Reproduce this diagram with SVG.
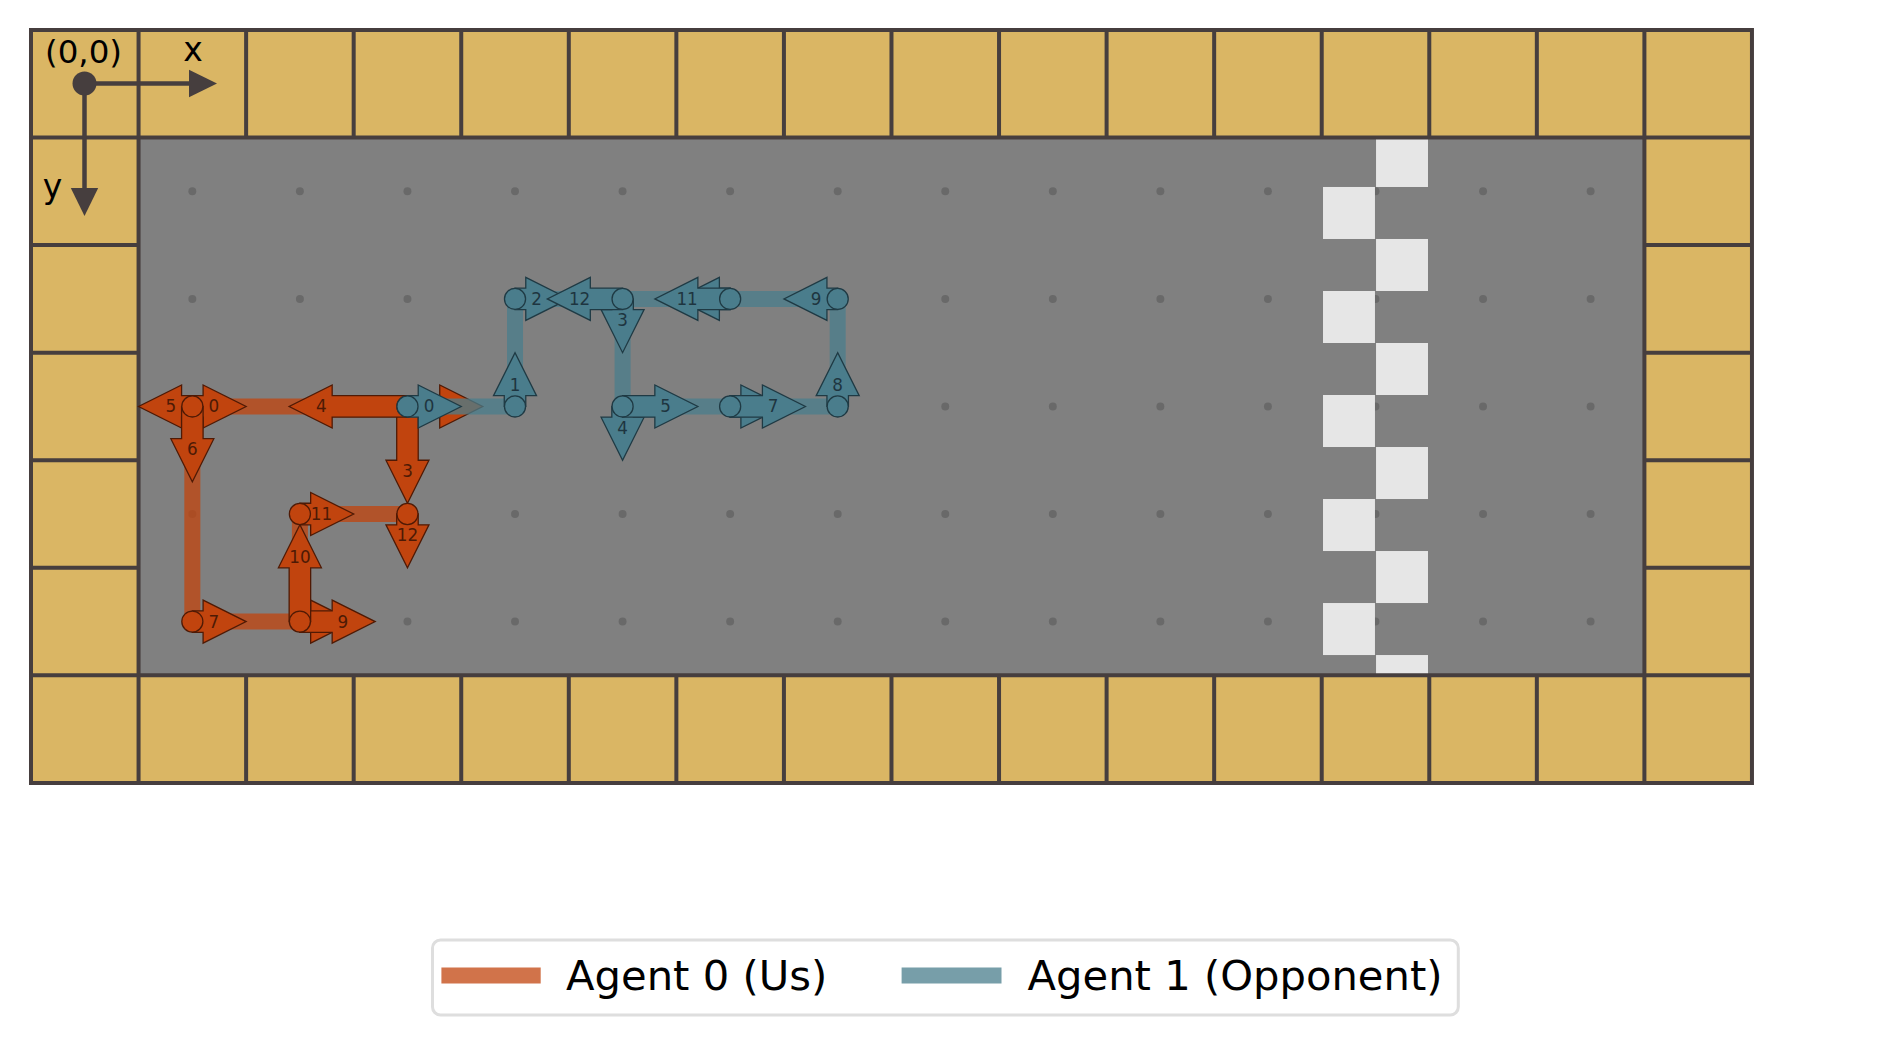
<svg xmlns="http://www.w3.org/2000/svg" width="1890" height="1045" viewBox="0 0 1890 1045">
<defs>
<style>
.txt{font-family:"DejaVu Sans","Liberation Sans",sans-serif}
.wall{fill:#dab664}
.floor{fill:#808080}
.dot{fill:#696969}
.chk{fill:#e6e6e6}
.gl{stroke:#463e3e;stroke-width:0.0372;stroke-linecap:square;fill:none}
.ao{fill:#c1440e;stroke:#4f1a05;stroke-width:0.012}
.at{fill:#4a7d8c;stroke:#1f3a44;stroke-width:0.012}
.co{fill:#c1440e;stroke:#4f1a05;stroke-width:0.012}
.ct{fill:#4a7d8c;stroke:#1f3a44;stroke-width:0.012}
.po{fill:none;stroke:#c1440e;stroke-opacity:0.75;stroke-width:0.149;stroke-linejoin:round}
.pt{fill:none;stroke:#4a7d8c;stroke-opacity:0.75;stroke-width:0.149;stroke-linejoin:round}
.lo{font-size:16.8px;fill:#4d1a05;text-anchor:middle}
.lt{font-size:16.8px;fill:#1e3540;text-anchor:middle}
.ax{fill:#463e3e}
</style>
<polygon id="a05" points="0,-0.1 0.1,-0.1 0.1,-0.2 0.5,0 0.1,0.2 0.1,0.1 0,0.1"/>
<polygon id="a07" points="0,-0.1 0.3,-0.1 0.3,-0.2 0.7,0 0.3,0.2 0.3,0.1 0,0.1"/>
<polygon id="a09" points="0,-0.1 0.5,-0.1 0.5,-0.2 0.9,0 0.5,0.2 0.5,0.1 0,0.1"/>
<polygon id="a11" points="0,-0.1 0.7,-0.1 0.7,-0.2 1.1,0 0.7,0.2 0.7,0.1 0,0.1"/>
</defs>
<rect width="1890" height="1045" fill="#ffffff"/>
<g id="board" transform="translate(31,30) scale(107.56)">
<rect class="wall" x="0" y="0" width="16" height="7"/>
<rect class="floor" x="1" y="1" width="14" height="5"/>
<g id="dots" class="dot">
<circle cx="1.5" cy="1.5" r="0.037"/><circle cx="2.5" cy="1.5" r="0.037"/><circle cx="3.5" cy="1.5" r="0.037"/><circle cx="4.5" cy="1.5" r="0.037"/><circle cx="5.5" cy="1.5" r="0.037"/><circle cx="6.5" cy="1.5" r="0.037"/><circle cx="7.5" cy="1.5" r="0.037"/><circle cx="8.5" cy="1.5" r="0.037"/><circle cx="9.5" cy="1.5" r="0.037"/><circle cx="10.5" cy="1.5" r="0.037"/><circle cx="11.5" cy="1.5" r="0.037"/><circle cx="12.5" cy="1.5" r="0.037"/><circle cx="13.5" cy="1.5" r="0.037"/><circle cx="14.5" cy="1.5" r="0.037"/>
<circle cx="1.5" cy="2.5" r="0.037"/><circle cx="2.5" cy="2.5" r="0.037"/><circle cx="3.5" cy="2.5" r="0.037"/><circle cx="4.5" cy="2.5" r="0.037"/><circle cx="5.5" cy="2.5" r="0.037"/><circle cx="6.5" cy="2.5" r="0.037"/><circle cx="7.5" cy="2.5" r="0.037"/><circle cx="8.5" cy="2.5" r="0.037"/><circle cx="9.5" cy="2.5" r="0.037"/><circle cx="10.5" cy="2.5" r="0.037"/><circle cx="11.5" cy="2.5" r="0.037"/><circle cx="12.5" cy="2.5" r="0.037"/><circle cx="13.5" cy="2.5" r="0.037"/><circle cx="14.5" cy="2.5" r="0.037"/>
<circle cx="1.5" cy="3.5" r="0.037"/><circle cx="2.5" cy="3.5" r="0.037"/><circle cx="3.5" cy="3.5" r="0.037"/><circle cx="4.5" cy="3.5" r="0.037"/><circle cx="5.5" cy="3.5" r="0.037"/><circle cx="6.5" cy="3.5" r="0.037"/><circle cx="7.5" cy="3.5" r="0.037"/><circle cx="8.5" cy="3.5" r="0.037"/><circle cx="9.5" cy="3.5" r="0.037"/><circle cx="10.5" cy="3.5" r="0.037"/><circle cx="11.5" cy="3.5" r="0.037"/><circle cx="12.5" cy="3.5" r="0.037"/><circle cx="13.5" cy="3.5" r="0.037"/><circle cx="14.5" cy="3.5" r="0.037"/>
<circle cx="1.5" cy="4.5" r="0.037"/><circle cx="2.5" cy="4.5" r="0.037"/><circle cx="3.5" cy="4.5" r="0.037"/><circle cx="4.5" cy="4.5" r="0.037"/><circle cx="5.5" cy="4.5" r="0.037"/><circle cx="6.5" cy="4.5" r="0.037"/><circle cx="7.5" cy="4.5" r="0.037"/><circle cx="8.5" cy="4.5" r="0.037"/><circle cx="9.5" cy="4.5" r="0.037"/><circle cx="10.5" cy="4.5" r="0.037"/><circle cx="11.5" cy="4.5" r="0.037"/><circle cx="12.5" cy="4.5" r="0.037"/><circle cx="13.5" cy="4.5" r="0.037"/><circle cx="14.5" cy="4.5" r="0.037"/>
<circle cx="1.5" cy="5.5" r="0.037"/><circle cx="2.5" cy="5.5" r="0.037"/><circle cx="3.5" cy="5.5" r="0.037"/><circle cx="4.5" cy="5.5" r="0.037"/><circle cx="5.5" cy="5.5" r="0.037"/><circle cx="6.5" cy="5.5" r="0.037"/><circle cx="7.5" cy="5.5" r="0.037"/><circle cx="8.5" cy="5.5" r="0.037"/><circle cx="9.5" cy="5.5" r="0.037"/><circle cx="10.5" cy="5.5" r="0.037"/><circle cx="11.5" cy="5.5" r="0.037"/><circle cx="12.5" cy="5.5" r="0.037"/><circle cx="13.5" cy="5.5" r="0.037"/><circle cx="14.5" cy="5.5" r="0.037"/>
</g>
<g id="finish" class="chk">
<rect x="12.505" y="1.0" width="0.483" height="0.4595"/>
<rect x="12.012" y="1.4595" width="0.483" height="0.4835"/>
<rect x="12.505" y="1.943" width="0.483" height="0.4835"/>
<rect x="12.012" y="2.4265" width="0.483" height="0.4835"/>
<rect x="12.505" y="2.910" width="0.483" height="0.4835"/>
<rect x="12.012" y="3.3935" width="0.483" height="0.4835"/>
<rect x="12.505" y="3.877" width="0.483" height="0.4835"/>
<rect x="12.012" y="4.3605" width="0.483" height="0.4835"/>
<rect x="12.505" y="4.844" width="0.483" height="0.4835"/>
<rect x="12.012" y="5.3275" width="0.483" height="0.4835"/>
<rect x="12.505" y="5.811" width="0.483" height="0.189"/>
</g>
<path class="gl" d="M0,0H16M0,1H16M0,6H16M0,7H16M0,2H1M0,3H1M0,4H1M0,5H1M15,2H16M15,3H16M15,4H16M15,5H16M0,0V7M1,0V7M15,0V7M16,0V7M2,0V1M3,0V1M4,0V1M5,0V1M6,0V1M7,0V1M8,0V1M9,0V1M10,0V1M11,0V1M12,0V1M13,0V1M14,0V1M2,6V7M3,6V7M4,6V7M5,6V7M6,6V7M7,6V7M8,6V7M9,6V7M10,6V7M11,6V7M12,6V7M13,6V7M14,6V7"/>
</g>
<g id="origin">
<line x1="84.5" y1="83.5" x2="191" y2="83.5" stroke="#463e3e" stroke-width="4.5"/>
<polygon class="ax" points="189,69.8 217,83.5 189,97.2"/>
<line x1="84.5" y1="83.5" x2="84.5" y2="190" stroke="#463e3e" stroke-width="4.5"/>
<polygon class="ax" points="70.8,188 84.5,216 98.2,188"/>
<circle class="ax" cx="84.5" cy="83.5" r="12"/>
<text class="txt" x="83.5" y="62.5" font-size="32.5" text-anchor="middle">(0,0)</text>
<text class="txt" x="193" y="61" font-size="33" text-anchor="middle">x</text>
<text class="txt" x="52.5" y="198" font-size="33" text-anchor="middle">y</text>
</g>
<g id="connectors-agent0">
<polyline class="po" transform="translate(31,30) scale(107.56)" points="1.5,3.5 3.5,3.5 1.5,3.5 1.5,5.5 2.5,5.5 2.5,4.5 3.5,4.5"/>
</g>
<g id="agent0-steps">
<g id="a0-s0"><use href="#a05" class="ao" transform="translate(31,30) scale(107.56) translate(1.5,3.5)"/><text class="txt lo" x="213.9" y="412.4">0</text></g>
<g id="a0-s2"><use href="#a07" class="ao" transform="translate(31,30) scale(107.56) translate(3.5,3.5)"/></g>
<g id="a0-s3"><use href="#a09" class="ao" transform="translate(31,30) scale(107.56) translate(3.5,3.5) rotate(90)"/><text class="txt lo" x="407.5" y="476.9">3</text></g>
<g id="a0-s4"><use href="#a11" class="ao" transform="translate(31,30) scale(107.56) translate(3.5,3.5) rotate(180)"/><text class="txt lo" x="321.4" y="412.4">4</text></g>
<g id="a0-s5"><use href="#a05" class="ao" transform="translate(31,30) scale(107.56) translate(1.5,3.5) rotate(180)"/><text class="txt lo" x="170.8" y="412.4">5</text></g>
<g id="a0-s6"><use href="#a07" class="ao" transform="translate(31,30) scale(107.56) translate(1.5,3.5) rotate(90)"/><text class="txt lo" x="192.3" y="455.4">6</text></g>
<g id="a0-s7"><use href="#a05" class="ao" transform="translate(31,30) scale(107.56) translate(1.5,5.5)"/><text class="txt lo" x="213.9" y="627.5">7</text></g>
<g id="a0-s8"><use href="#a05" class="ao" transform="translate(31,30) scale(107.56) translate(2.5,5.5)"/></g>
<g id="a0-s9"><use href="#a07" class="ao" transform="translate(31,30) scale(107.56) translate(2.5,5.5)"/><text class="txt lo" x="342.9" y="627.5">9</text></g>
<g id="a0-s10"><use href="#a09" class="ao" transform="translate(31,30) scale(107.56) translate(2.5,5.5) rotate(-90)"/><text class="txt lo" x="299.9" y="562.9">10</text></g>
<g id="a0-s11"><use href="#a05" class="ao" transform="translate(31,30) scale(107.56) translate(2.5,4.5)"/><text class="txt lo" x="321.4" y="519.9">11</text></g>
<g id="a0-s12"><use href="#a05" class="ao" transform="translate(31,30) scale(107.56) translate(3.5,4.5) rotate(90)"/><text class="txt lo" x="407.5" y="541.4">12</text></g>
</g>
<g id="agent0-positions" transform="translate(31,30) scale(107.56)">
<circle class="co" cx="1.5" cy="3.5" r="0.098"/>
<circle class="co" cx="3.5" cy="3.5" r="0.098"/>
<circle class="co" cx="1.5" cy="5.5" r="0.098"/>
<circle class="co" cx="2.5" cy="5.5" r="0.098"/>
<circle class="co" cx="2.5" cy="4.5" r="0.098"/>
<circle class="co" cx="3.5" cy="4.5" r="0.098"/>
</g>
<g id="connectors-agent1">
<polyline class="pt" transform="translate(31,30) scale(107.56)" points="3.5,3.5 4.5,3.5 4.5,2.5 5.5,2.5 5.5,3.5 6.5,3.5 7.5,3.5 7.5,2.5 6.5,2.5 5.5,2.5"/>
</g>
<g id="agent1-steps">
<g id="a1-s0"><use href="#a05" class="at" transform="translate(31,30) scale(107.56) translate(3.5,3.5)"/><text class="txt lt" x="429" y="412.4">0</text></g>
<g id="a1-s1"><use href="#a05" class="at" transform="translate(31,30) scale(107.56) translate(4.5,3.5) rotate(-90)"/><text class="txt lt" x="515" y="390.9">1</text></g>
<g id="a1-s2"><use href="#a05" class="at" transform="translate(31,30) scale(107.56) translate(4.5,2.5)"/><text class="txt lt" x="536.5" y="304.8">2</text></g>
<g id="a1-s3"><use href="#a05" class="at" transform="translate(31,30) scale(107.56) translate(5.5,2.5) rotate(90)"/><text class="txt lt" x="622.6" y="326.3">3</text></g>
<g id="a1-s4"><use href="#a05" class="at" transform="translate(31,30) scale(107.56) translate(5.5,3.5) rotate(90)"/><text class="txt lt" x="622.6" y="433.9">4</text></g>
<g id="a1-s5"><use href="#a07" class="at" transform="translate(31,30) scale(107.56) translate(5.5,3.5)"/><text class="txt lt" x="665.6" y="412.4">5</text></g>
<g id="a1-s6"><use href="#a05" class="at" transform="translate(31,30) scale(107.56) translate(6.5,3.5)"/></g>
<g id="a1-s7"><use href="#a07" class="at" transform="translate(31,30) scale(107.56) translate(6.5,3.5)"/><text class="txt lt" x="773.2" y="412.4">7</text></g>
<g id="a1-s8"><use href="#a05" class="at" transform="translate(31,30) scale(107.56) translate(7.5,3.5) rotate(-90)"/><text class="txt lt" x="837.7" y="390.9">8</text></g>
<g id="a1-s9"><use href="#a05" class="at" transform="translate(31,30) scale(107.56) translate(7.5,2.5) rotate(180)"/><text class="txt lt" x="816.2" y="304.8">9</text></g>
<g id="a1-s10"><use href="#a05" class="at" transform="translate(31,30) scale(107.56) translate(6.5,2.5) rotate(180)"/></g>
<g id="a1-s11"><use href="#a07" class="at" transform="translate(31,30) scale(107.56) translate(6.5,2.5) rotate(180)"/><text class="txt lt" x="687.1" y="304.8">11</text></g>
<g id="a1-s12"><use href="#a07" class="at" transform="translate(31,30) scale(107.56) translate(5.5,2.5) rotate(180)"/><text class="txt lt" x="579.6" y="304.8">12</text></g>
</g>
<g id="agent1-positions" transform="translate(31,30) scale(107.56)">
<circle class="ct" cx="3.5" cy="3.5" r="0.098"/>
<circle class="ct" cx="4.5" cy="3.5" r="0.098"/>
<circle class="ct" cx="4.5" cy="2.5" r="0.098"/>
<circle class="ct" cx="5.5" cy="2.5" r="0.098"/>
<circle class="ct" cx="5.5" cy="3.5" r="0.098"/>
<circle class="ct" cx="6.5" cy="3.5" r="0.098"/>
<circle class="ct" cx="7.5" cy="3.5" r="0.098"/>
<circle class="ct" cx="7.5" cy="2.5" r="0.098"/>
<circle class="ct" cx="6.5" cy="2.5" r="0.098"/>
</g>
<g id="legend">
<rect x="432.5" y="940" width="1025.8" height="75" rx="8" fill="#ffffff" stroke="#dedede" stroke-width="3"/>
<line x1="441.4" y1="975.5" x2="540.7" y2="975.5" stroke="#c1440e" stroke-opacity="0.75" stroke-width="16"/>
<text class="txt" x="566" y="990" font-size="41.7">Agent 0 (Us)</text>
<line x1="901.6" y1="975.5" x2="1001.5" y2="975.5" stroke="#4a7d8c" stroke-opacity="0.75" stroke-width="16"/>
<text class="txt" x="1027.5" y="990" font-size="41.7">Agent 1 (Opponent)</text>
</g>
</svg>
